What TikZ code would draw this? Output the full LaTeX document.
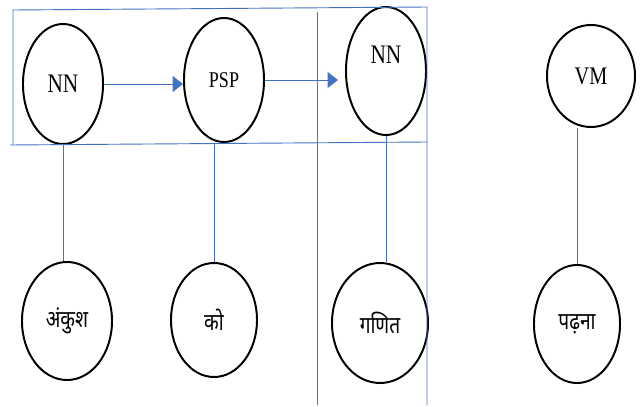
\documentclass[tikz,border=0pt]{standalone}
\usepackage{fontspec}
\setmainfont{Liberation Serif}
\newfontfamily\tagfont[FakeStretch=0.8]{Liberation Serif}
\newfontfamily\hindi[Script=Devanagari,FakeStretch=0.8]{Noto Sans}
\usepackage{tikz}
\usetikzlibrary{arrows.meta,positioning,calc,shapes.geometric}
\definecolor{wordblue}{HTML}{4472C4}

\begin{document}
\begin{tikzpicture}[x=0.025cm,y=-0.025cm,>={Triangle[length=0.26cm,width=0.4cm]},tagnode/.style={draw,ellipse,line width=1.4pt,inner sep=0pt,minimum width=2cm,minimum height=3cm,font=\tagfont\fontsize{19}{19}\selectfont},wordnode/.style={tagnode,minimum width=2.25cm,minimum height=2.95cm,font=\hindi\fontsize{17}{17}\selectfont},link/.style={draw=wordblue,line width=0.65pt}]
\useasboundingbox (0,0) rectangle (640,407);
\node[tagnode] (nn1) at (63,84) {NN};
\node[tagnode,minimum height=3.1cm,font=\tagfont\fontsize{16}{16}\selectfont] (psp) at (224,80) {PSP};
\node[tagnode,minimum height=3.2cm,label={[font=\tagfont\fontsize{19}{19}\selectfont,yshift=0.4cm]center:NN}] (nn2) at (386,71) {};
\node[tagnode,minimum width=2.2cm,minimum height=2.55cm,font=\tagfont\fontsize{18}{18}\selectfont] (vm) at (591,76) {VM};
\node[wordnode] (ank) at (67,321) {अंकुश};
\node[wordnode,minimum width=2.15cm,minimum height=2.85cm] (ko) at (214,320) {को};
\node[wordnode,minimum width=2.4cm,minimum height=3cm] (gan) at (380,323) {गणित};
\node[wordnode,minimum width=2.15cm] (pad) at (577,324) {पढ़ना};
% frame round the chunk
\draw[link] (13,145) -- (13,10) -- (427,7) -- (427,405);
\draw[link] (10,145) -- (427,142);
\draw[link] (317,12) -- (317,405);
\draw[link,->] (nn1.east) -- (nn1.east -| psp.west);
\draw[link,->,shorten >=5pt] (psp.east) -- (psp.east -| nn2.west);
\draw[link] (nn1.south) -- (nn1.south |- ank.north);\draw[link] (psp.south -| ko.north) -- (ko.north);
\draw[link] (nn2.south) -- (nn2.south |- gan.north);\draw[link] (pad.north) -- (pad.north |- vm.south);
\end{tikzpicture}
\end{document}
